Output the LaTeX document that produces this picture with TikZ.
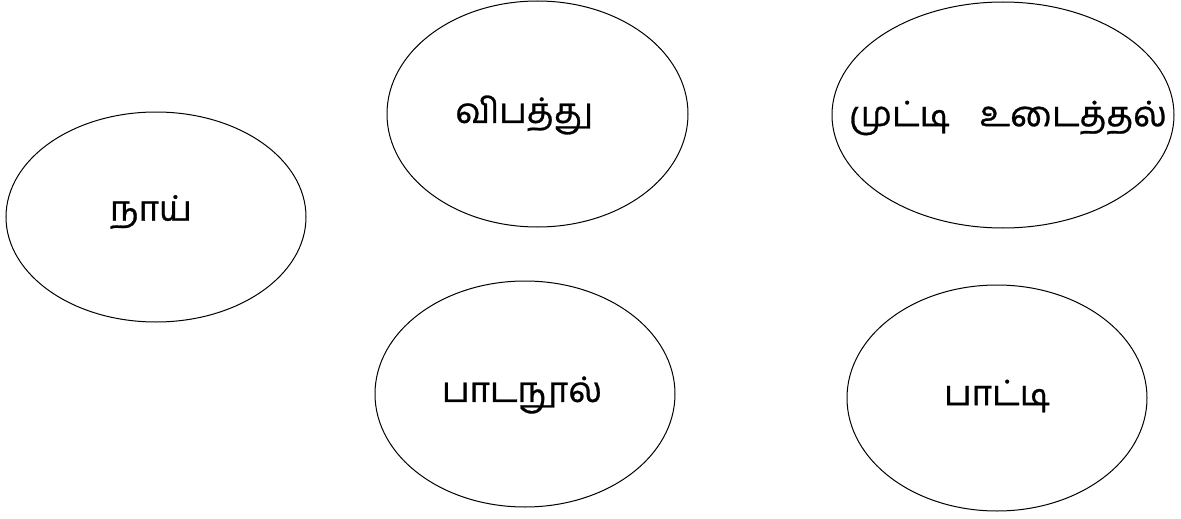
\documentclass[tikz,border=0pt]{standalone}
\usepackage{fontspec}
\newfontfamily\tamilfont[Script=Tamil,FakeBold=0.8]{Hind Madurai}
\usetikzlibrary{shapes.geometric}
\begin{document}
\begin{tikzpicture}[x=1pt,y=-1pt,
  bubble/.style={draw=black,line width=1pt,ellipse,inner sep=0pt},
  word/.style={font=\tamilfont\fontsize{35}{40}\selectfont,inner sep=0pt}]
\useasboundingbox (0,0) rectangle (1181,519);
\node[bubble,minimum width=300pt,minimum height=210pt] (e1) at (156,217) {};
\node[bubble,minimum width=301pt,minimum height=226pt] (e2) at (537.5,114) {};
\node[bubble,minimum width=342pt,minimum height=226pt] (e3) at (1003,115) {};
\node[bubble,minimum width=300pt,minimum height=226pt] (e4) at (525,394) {};
\node[bubble,minimum width=300pt,minimum height=226pt] (e5) at (997,398) {};
\node[word] (t1) at (151,212) {நாய்};
\node[word] (t2) at (524,115) {விபத்து};
\node[word] (t3) at (1008,118) {முட்டி\hspace{0.85em}உடைத்தல்};
\node[word] (t4) at (522,395) {பாடநூல்};
\node[word] (t5) at (997,396) {பாட்டி};
\end{tikzpicture}
\end{document}
